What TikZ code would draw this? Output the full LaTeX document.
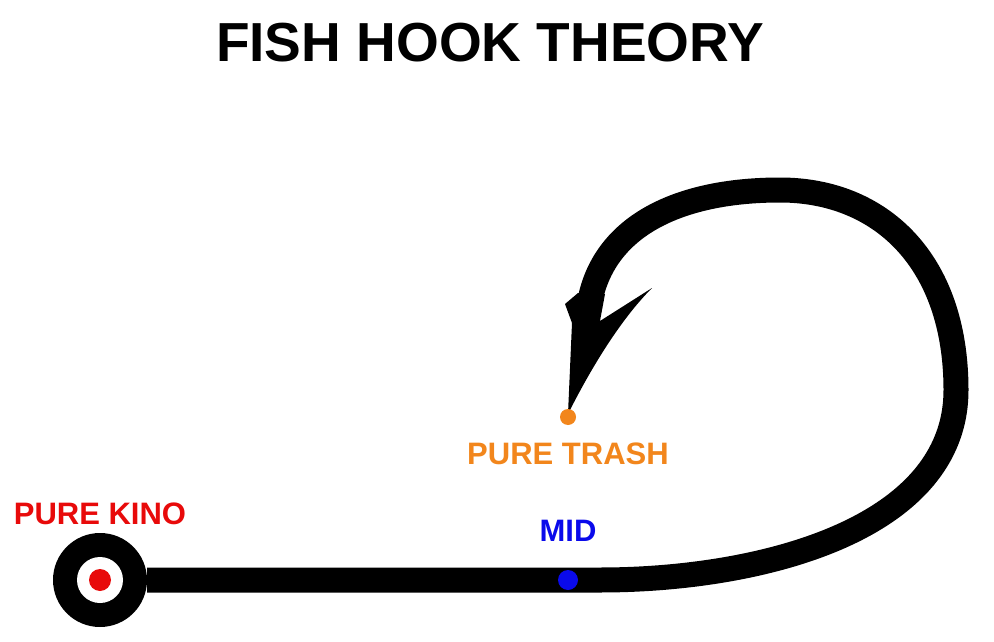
\documentclass[tikz,border=0pt]{standalone}
\usepackage{fontspec}
\setsansfont{Liberation Sans}
\usetikzlibrary{positioning}
\definecolor{kinored}{RGB}{232,10,10}
\definecolor{trashorange}{RGB}{242,134,28}
\definecolor{midblue}{RGB}{10,10,235}

\begin{document}
\begin{tikzpicture}[x=1pt, y=-1pt, every node/.style={font=\sffamily\bfseries, inner sep=0pt},
    dot/.style={circle, inner sep=0pt, minimum size=#1},
    hookline/.style={line width=25pt, black},
    tag/.style={font=\sffamily\bfseries\fontsize{31}{36}\selectfont}]
    \useasboundingbox[fill=white] (0,0) rectangle (994,642);

    % Title
    \node[font=\sffamily\bfseries\fontsize{55}{60}\selectfont] (title) at (490,43) {FISH HOOK THEORY};

    % Eye of the hook
    \node[dot=94pt, fill=black] (eye) at (100,580) {};
    \node[dot=46pt, fill=white] (ring) at (eye) {};
    \node[dot=22pt, fill=kinored] (kino) at (eye) {};

    % Shank, bend and point
    \coordinate (bend) at (600,580);
    \coordinate (back) at (956,390);
    \coordinate (crown) at (780,190);
    \coordinate (neck) at (590,300);
    \draw[hookline] (eye.east) -- (bend) .. controls (760,580) and (956,530) .. (back)
        .. controls (956,260) and (880,190) .. (crown)
        .. controls (685,190) and (606,222) .. (neck);
    \fill (578,293) -- (565,304) -- (572,323) -- (568,414)
        .. controls (590,370) and (620,320) .. (652,288) -- (600,321) -- (605,294) -- cycle;

    % Dots on the hook
    \node[dot=16pt, fill=trashorange] (trash) at (568,417) {};
    \node[dot=20pt, fill=midblue] (mid) at (568,580) {};

    % Labels
    \node[tag, text=kinored, above=8pt of eye] (kinolabel) {PURE KINO};
    \node[tag, text=trashorange, below=17pt of trash] (trashlabel) {PURE TRASH};
    \node[tag, text=midblue, above=28pt of mid] (midlabel) {MID};
\end{tikzpicture}
\end{document}
